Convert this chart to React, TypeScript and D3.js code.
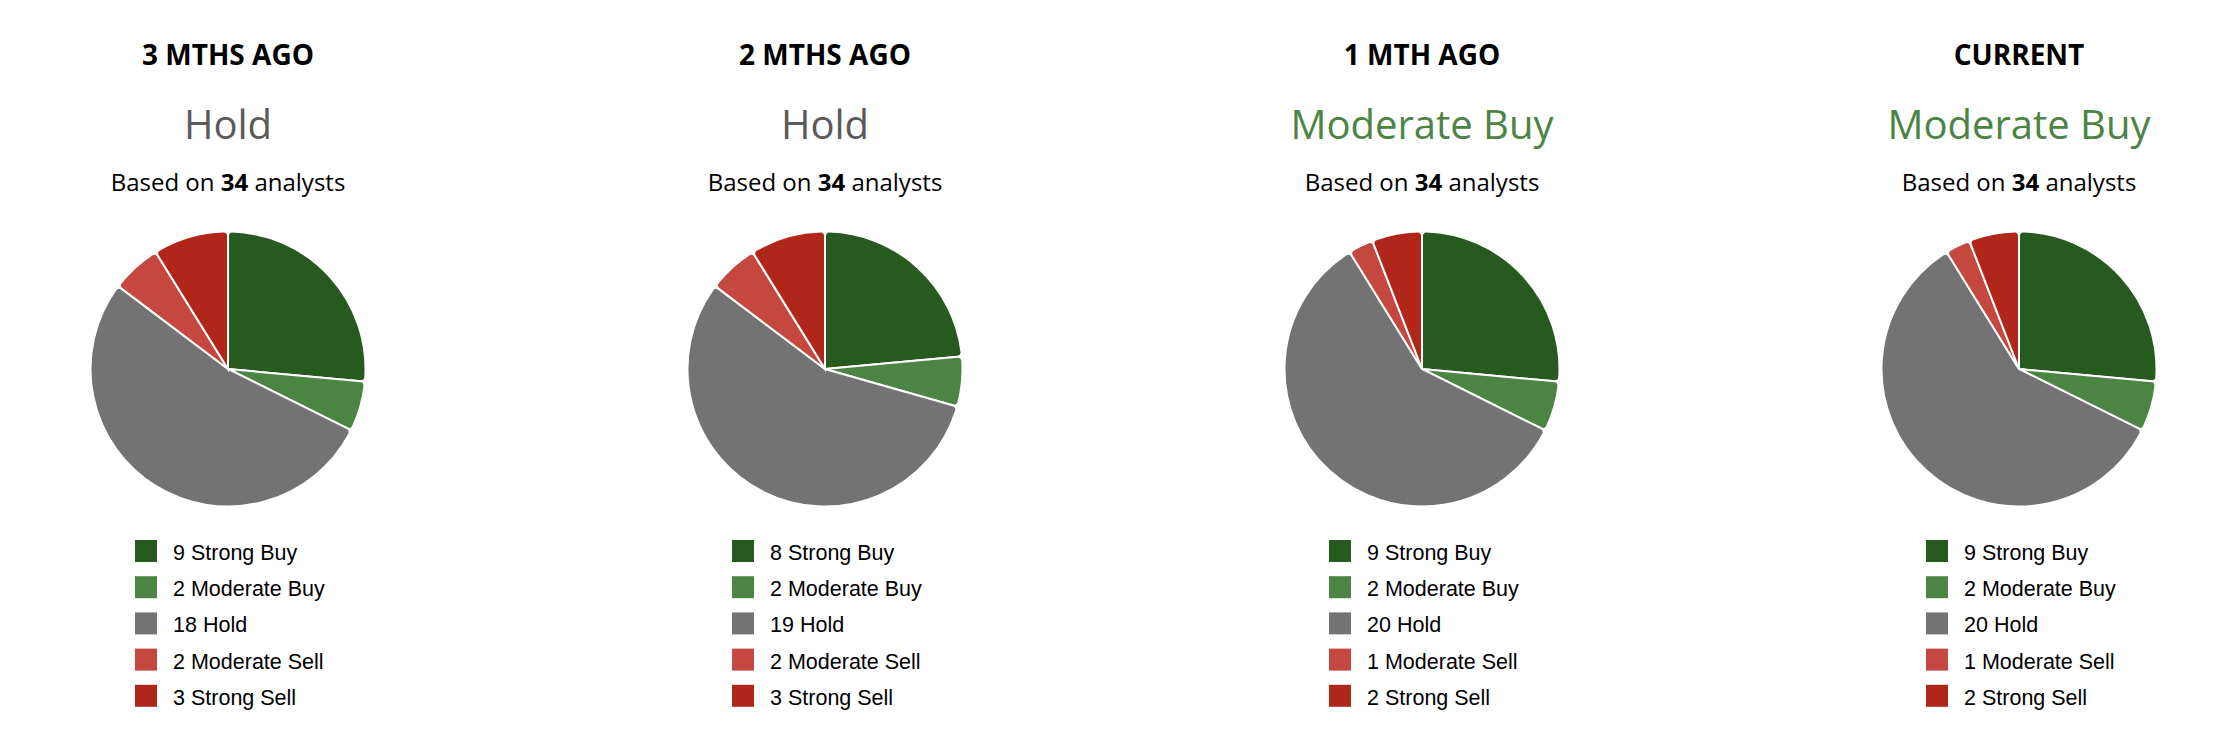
import * as d3 from "d3";

const WIDTH = 2232;
const HEIGHT = 744;

const PERIODS = ["3 MTHS AGO", "2 MTHS AGO", "1 MTH AGO", "CURRENT"];
const CONSENSUS = ["Hold", "Hold", "Moderate Buy", "Moderate Buy"];
const ANALYSTS = [34, 34, 34, 34];

const CATEGORIES = ["Strong Buy", "Moderate Buy", "Hold", "Moderate Sell", "Strong Sell"];
const STRONG_BUY = [9, 8, 9, 9];
const MODERATE_BUY = [2, 2, 2, 2];
const HOLD = [18, 19, 20, 20];
const MODERATE_SELL = [2, 2, 1, 1];
const STRONG_SELL = [3, 3, 2, 2];

const COLORS = ["#275a1f", "#4b8443", "#737373", "#c4483f", "#b1261a"];
const CONSENSUS_COLORS: Record<string, string> = {
  "Hold": "#5a5a5a",
  "Moderate Buy": "#4b8443",
};

const SERIES = [STRONG_BUY, MODERATE_BUY, HOLD, MODERATE_SELL, STRONG_SELL];

const TITLE_FONT = "'Open Sans', 'Noto Sans', sans-serif";
const LEGEND_FONT = "'Liberation Sans', Arial, Helvetica, sans-serif";

// panel centres along the row
const x = d3.scalePoint<string>().domain(PERIODS).range([228, 2019]);
const legendY = d3.scaleBand<string>().domain(CATEGORIES).range([540, 540 + 36.2 * CATEGORIES.length]);

const pie = d3.pie<number>().sort(null).value((d) => d);
const arc = d3.arc<d3.PieArcDatum<number>>().innerRadius(0).outerRadius(137.5).cornerRadius(4);

const Panel = ({ index }: { index: number }) => {
  const cx = x(PERIODS[index])!;
  const counts = SERIES.map((s) => s[index]);
  const arcs = pie(counts);
  const rating = CONSENSUS[index];

  return (
    <g>
      <text x={cx} y={65} textAnchor="middle" fontFamily={TITLE_FONT} fontWeight={700} fontSize={28} fill="#000">
        {PERIODS[index]}
      </text>
      <text x={cx} y={139} textAnchor="middle" fontFamily={TITLE_FONT} fontSize={40} fill={CONSENSUS_COLORS[rating]}>
        {rating}
      </text>
      <text x={cx} y={191} textAnchor="middle" fontFamily={TITLE_FONT} fontSize={24} fill="#000">
        Based on <tspan fontWeight={700}>{ANALYSTS[index]}</tspan> analysts
      </text>

      <g transform={`translate(${cx}, 369)`}>
        {arcs.map((a, i) => (
          <path key={i} d={arc(a)!} fill={COLORS[i]} stroke="#fff" strokeWidth={2} />
        ))}
      </g>

      {/* legend */}
      <g transform={`translate(${cx - 93}, 0)`}>
        {CATEGORIES.map((c, i) => (
          <g key={c} transform={`translate(0, ${legendY(c)})`}>
            <rect width={22} height={22} fill={COLORS[i]} />
            <text x={38} y={20} fontFamily={LEGEND_FONT} fontSize={21.5} fill="#000">
              {counts[i]} {c}
            </text>
          </g>
        ))}
      </g>
    </g>
  );
};

export default function App() {
  return (
    <svg
      width={WIDTH}
      height={HEIGHT}
      style={{ position: "absolute", left: 0, top: 0, background: "#fff" }}
    >
      <rect width={WIDTH} height={HEIGHT} fill="#fff" />
      {PERIODS.map((_, i) => (
        <Panel key={i} index={i} />
      ))}
    </svg>
  );
}
